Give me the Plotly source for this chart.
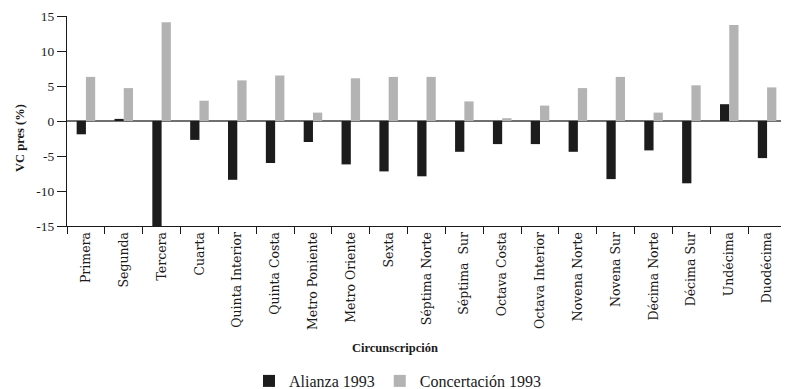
import plotly.graph_objects as go

categories = ["Primera", "Segunda", "Tercera", "Cuarta", "Quinta Interior", "Quinta Costa",
              "Metro Poniente", "Metro Oriente", "Sexta", "Séptima Norte", "Séptima  Sur",
              "Octava Costa", "Octava Interior", "Novena Norte", "Novena Sur", "Décima Norte",
              "Décima Sur", "Undécima", "Duodécima"]
alianza = [-1.9, 0.3, -15.0, -2.7, -8.4, -6.0, -3.0, -6.2, -7.2, -7.9, -4.4, -3.3, -3.3,
           -4.4, -8.3, -4.2, -8.9, 2.4, -5.3]
concertacion = [6.3, 4.7, 14.1, 2.9, 5.8, 6.5, 1.2, 6.1, 6.3, 6.3, 2.8, 0.4, 2.2,
                4.7, 6.3, 1.2, 5.1, 13.7, 4.8]
yticks = [-15, -10, -5, 0, 5, 10, 15]
yticklabels = ["-15", "-10", "-5", "0", "5", "10", "15"]

FONT = "Liberation Serif"
WIDE = "DejaVu Serif"
W, H = 781, 381  # page has an 8px body margin
L, R, T, B = 59, 3, 8, 163

fig = go.Figure()
fig.add_trace(go.Bar(x=categories, y=alianza, name="Alianza 1993",
                     marker=dict(color="#1c1c1c", line=dict(width=0))))
fig.add_trace(go.Bar(x=categories, y=concertacion, name="Concertación 1993",
                     marker=dict(color="#b3b3b3", line=dict(width=0))))

fig.update_layout(
    width=W, height=H,
    margin=dict(l=L, r=R, t=T, b=B, pad=0),
    paper_bgcolor="white", plot_bgcolor="white",
    barmode="group", bargap=0.51, bargroupgap=0,
    font=dict(family=FONT, color="#1a1a1a", size=13),
    showlegend=True,
    legend=dict(orientation="h", x=241 / W, xanchor="left", xref="container",
                y=1 - 373 / H, yanchor="middle", yref="container",
                font=dict(family=FONT, size=16, color="#1a1a1a"),
                itemwidth=30, tracegroupgap=0, bgcolor="rgba(0,0,0,0)"),
    xaxis=dict(type="category", showline=True, linecolor="#1a1a1a", linewidth=1,
               ticks="outside", tickson="boundaries", ticklen=7, tickcolor="#1a1a1a",
               tickangle=-90, tickfont=dict(family=WIDE, size=12.5, color="#1a1a1a"),
               showgrid=False, zeroline=False, automargin=False),
    yaxis=dict(range=[-15, 15], tickvals=yticks, ticktext=yticklabels, showline=True,
               linecolor="#1a1a1a", linewidth=1, ticks="outside", ticklen=9,
               tickcolor="#1a1a1a",
               tickfont=dict(family=FONT, size=13.5, color="#1a1a1a"),
               showgrid=False, zeroline=True, zerolinecolor="#707070", zerolinewidth=1.5,
               automargin=False),
)

pl, pr, pt, pb = L, W - R, T, H - B
def px2paper(px, py):
    return (px - pl) / (pr - pl), (pb - py) / (pb - pt)

ax, ay = px2paper(12, 130)
fig.add_annotation(text="<b>VC pres (%)</b>", x=ax, y=ay, xref="paper", yref="paper",
                   showarrow=False, textangle=-90, xanchor="center", yanchor="middle",
                   font=dict(family=FONT, size=12.5, color="#1a1a1a"))
ax, ay = px2paper(387, 340)
fig.add_annotation(text="<b>Circunscripción</b>", x=ax, y=ay, xref="paper", yref="paper",
                   showarrow=False, xanchor="center", yanchor="middle",
                   font=dict(family=FONT, size=12.5, color="#1a1a1a"))

fig.write_html("out.html")
